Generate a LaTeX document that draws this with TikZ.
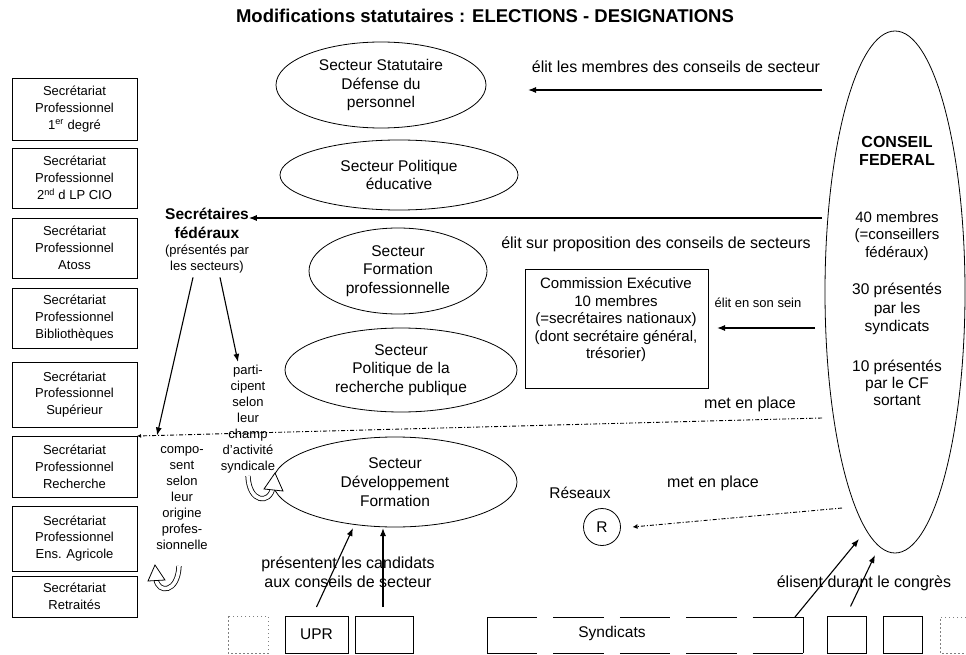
\documentclass[tikz,border=0pt]{standalone}
\usepackage{fontspec}
\setmainfont{Liberation Sans}
\usetikzlibrary{shapes.geometric,arrows.meta,calc}
\begin{document}
\begin{tikzpicture}[x=1pt,y=-1pt,
  every node/.style={inner sep=0pt, outer sep=0pt},
  big/.style={font=\fontsize{15.5}{18.7}\selectfont, align=center},
  lab/.style={font=\fontsize{16}{19}\selectfont, align=center},
  small/.style={font=\fontsize{13}{16}\selectfont, align=center},
  sect/.style={ellipse, draw, line width=0.8pt, big},
  secbox/.style={draw, line width=0.9pt, minimum width=125pt, align=center, font=\fontsize{13}{16.8}\selectfont},
  plainbox/.style={draw, line width=0.9pt, minimum height=37pt},
  dotbox/.style={line width=0.8pt, gray, dash pattern=on 1.5pt off 2.5pt},
  arr/.style={line width=1.1pt, -{Latex[length=8pt,width=6pt]}},
  dd/.style={line width=0.9pt, dash pattern=on 4pt off 2pt on 1pt off 2pt},
  uarrow/.style={line width=0.8pt, double distance=3.6pt},
]
\useasboundingbox (0,0) rectangle (966,655);

% title
\node[font=\fontsize{18.5}{21}\selectfont\bfseries] (title) at (485,16) {Modifications statutaires : ELECTIONS - DESIGNATIONS};

% left boxes
\node[secbox, minimum height=62pt] (sec1) at (74.5,109) {Secrétariat\\Professionnel\\1\textsuperscript{er} degré};
\node[secbox, minimum height=60pt] (sec2) at (74.5,178) {Secrétariat\\Professionnel\\2\textsuperscript{nd} d LP CIO};
\node[secbox, minimum height=60pt] (sec3) at (74.5,248) {Secrétariat\\Professionnel\\Atoss};
\node[secbox, minimum height=60pt] (sec4) at (74.5,318) {Secrétariat\\Professionnel\\Bibliothèques};
\node[secbox, minimum height=65pt] (sec5) at (74.5,394.5) {Secrétariat\\Professionnel\\Supérieur};
\node[secbox, minimum height=61pt] (sec6) at (74.5,466.5) {Secrétariat\\Professionnel\\Recherche};
\node[secbox, minimum height=65pt] (sec7) at (74.5,538.5) {Secrétariat\\Professionnel\\Ens. Agricole};
\node[secbox, minimum height=41pt] (sec8) at (74.5,596.5) {Secrétariat\\Retraités};

% sector ellipses
\node[sect, minimum width=210pt, minimum height=86pt] (e1) at (381,85) {Secteur Statutaire\\Défense du\\personnel};
\node[sect, minimum width=238pt, minimum height=70pt] (e2) at (399,175) {Secteur Politique\\éducative};
\node[sect, minimum width=178pt, minimum height=86pt] (e3) at (398,271) {Secteur\\Formation\\professionnelle};
\node[sect, minimum width=232pt, minimum height=84pt] (e4) at (401,370) {Secteur\\Politique de la\\recherche publique};
\node[sect, minimum width=244pt, minimum height=90pt] (e5) at (395,482) {Secteur\\Développement\\Formation};

% conseil federal
\node[ellipse, draw, line width=0.8pt, minimum width=140pt, minimum height=522pt] (cf) at (895,292) {};
\node[font=\fontsize{16}{18}\selectfont\bfseries, align=center] (cft1) at (897,151) {CONSEIL\\FEDERAL};
\node[big, font=\fontsize{15}{17.5}\selectfont] (cft2) at (897,236) {40 membres\\(=conseillers\\fédéraux)};
\node[big, font=\fontsize{15.5}{18.5}\selectfont] (cft3) at (897,309) {30 présentés\\par les\\syndicats};
\node[big, font=\fontsize{15.5}{17}\selectfont] (cft4) at (897,383) {10 présentés\\par le CF\\sortant};

% commission executive
\node[draw, line width=0.9pt, minimum width=183pt, minimum height=119pt] (ce) at (616.5,328.5) {};
\node[big, font=\fontsize{15}{17.5}\selectfont] (cet) at (616,320) {Commission Exécutive\\10 membres\\(=secrétaires nationaux)\\(dont secrétaire général,\\trésorier)};

% secretaires federaux
\node[font=\fontsize{15.5}{19}\selectfont\bfseries, align=center] (secfed) at (207,223) {Secrétaires\\fédéraux};
\node[small, font=\fontsize{13}{16.5}\selectfont] (secfed2) at (207,259) {(présentés par\\les secteurs)};

% columns
\node[small] (partcol) at (248,419) {parti-\\cipent\\selon\\leur\\champ\\d'activité\\syndicale};
\node[small] (compcol) at (182,498) {compo-\\sent\\selon\\leur\\origine\\profes-\\sionnelle};

% bottom boxes
\draw[dotbox] (228,616) rectangle (268,653);
\node[plainbox, minimum width=63pt, big] (upr) at (316.5,634.5) {UPR};
\node[plainbox, minimum width=58pt] (b2) at (384,634.5) {};
\coordinate (syndnw) at (487,617);
\coordinate (syndne) at (803,617);
\draw[line width=0.9pt] (syndnw) -- (487,653);
\draw[line width=0.9pt] (syndne) -- (803,653);
\draw[line width=0.9pt, dash pattern=on 50.4pt off 16pt] (syndnw) -- (syndne);
\draw[line width=0.9pt, dash pattern=on 50.4pt off 16pt] (487,653) -- (803,653);
\node[big] (synlab) at (612,633) {Syndicats};
\node[plainbox, minimum width=39pt] (b3) at (846.5,635) {};
\node[plainbox, minimum width=39pt] (b4) at (902.5,635) {};
\draw[dotbox] (970,617) -- (940,617) -- (940,653) -- (970,653);

% reseaux
\node[draw, circle, line width=0.8pt, minimum size=37pt, big] (res) at (602,527) {R};
\node[big] (reslab) at (580,493) {Réseaux};

% labels
\node[lab] (lab1) at (676,67) {élit les membres des conseils de secteur};
\node[lab] (lab2) at (656,244) {élit sur proposition des conseils de secteurs};
\node[font=\fontsize{13}{15}\selectfont] (lab3) at (758,303) {élit en son sein};
\node[lab] (lab4) at (750,404) {met en place};
\node[lab] (lab5) at (713,483) {met en place};
\node[lab] (lab7) at (348,572) {présentent les candidats\\aux conseils de secteur};
\node[lab] (lab8) at (864,583) {élisent durant le congrès};

% connector start points near the conseil federal
\coordinate (a1s) at (822,90);
\coordinate (a2s) at (822,218);
\coordinate (a3s) at (815,328);
\coordinate (a4s) at (822,418);
\coordinate (a5s) at (842,508);

% arrows
\draw[arr] (a1s) -- ($(e1.east |- a1s)+(42,0)$);
\draw[arr] (a2s) -- (secfed.east |- a2s);
\draw[arr] (a3s) -- ($(ce.east |- a3s)+(9,0)$);
\draw[dd, -{Latex[length=4pt,width=4pt]}] (a4s) -- (sec6.north east);
\draw[dd, -{Latex[length=5pt,width=5pt]}] (a5s) -- ($(res.east)+(12,0)$);
\coordinate (ddhit) at ($(a4s)!0.9708!(sec6.north east)$);
\draw[arr] ($(secfed2.south)+(-14,4)$) -- (ddhit);
\draw[arr] ($(secfed2.south)+(13,4)$) -- ($(partcol.north)+(-10,-3)$);
\draw[arr] ($(upr.north)+(0,-9)$) -- ($(e5.south)+(-42,1)$);
\draw[arr] ($(b2.north)+(-1,-9)$) -- ($(b2.north |- e5.south)+(-1,1)$);
\draw[arr] ($(syndne)+(-8,0)$) -- ($(cf.south)+(-36,-14)$);
\draw[arr] ($(b3.north)+(4,-10)$) -- ($(cf.south)+(-20,2)$);

% U-turn arrows
\draw[uarrow] (248,476) .. controls (249,503) and (270,505) .. (273,487);
\draw[line width=0.8pt, fill=white] (264,489) -- (275,473) -- (283,491) -- cycle;
\draw[uarrow] (179,566) .. controls (178,593) and (158,594) .. (156,579);
\draw[line width=0.8pt, fill=white] (148,581) -- (155,565) -- (165,580) -- cycle;
\end{tikzpicture}
\end{document}
